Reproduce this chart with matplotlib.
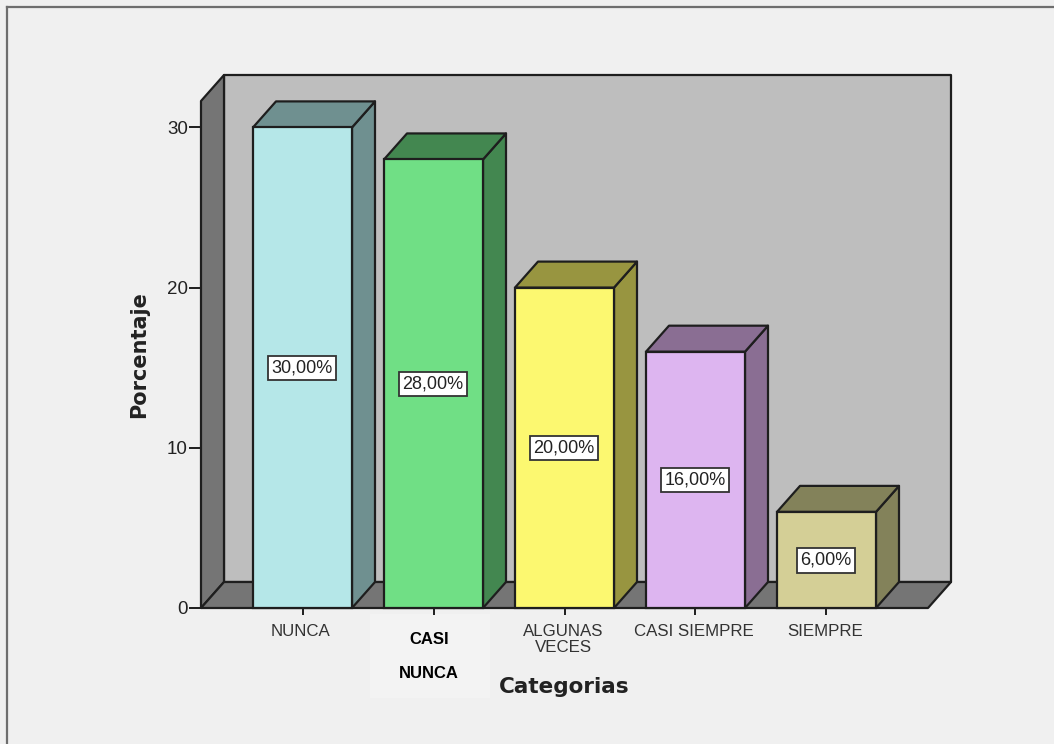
import matplotlib
matplotlib.use("Agg")
import matplotlib.pyplot as plt
from matplotlib.patches import Rectangle
from matplotlib.lines import Line2D
from matplotlib.transforms import ScaledTranslation

categories = ["NUNCA", "CASI\nNUNCA", "ALGUNAS\nVECES", "CASI SIEMPRE", "SIEMPRE"]
values = [30, 28, 20, 16, 6]
front_colors = ["#B5E7E8", "#70DF85", "#FCF870", "#DDB5F0", "#D4CF96"]
side_colors = ["#6F9090", "#438750", "#989540", "#8A6E93", "#83825A"]
yticks = [0, 10, 20, 30]

W, H = 1054, 744
BG = "#F0F0F0"
EDGE = "#1E1E1E"
WALL = "#757575"
BACK = "#BEBEBE"
FONT = ["Liberation Sans", "DejaVu Sans"]
NARROW = ["Liberation Sans Narrow", "Liberation Sans", "DejaVu Sans"]

fig = plt.figure(figsize=(W / 100, H / 100), dpi=100, facecolor=BG)

def fx(x):
    return x / W

def fy(y):
    return 1 - y / H

# frame of the picture
fig.add_artist(Line2D([fx(7), fx(7)], [fy(744), fy(7)], color="#6E6E6E", lw=1.6))
fig.add_artist(Line2D([fx(7), fx(1054)], [fy(7), fy(7)], color="#6E6E6E", lw=1.6))
fig.add_artist(Rectangle((fx(370), fy(698)), 120 / W, 84 / H, color="#F3F3F3", lw=0, zorder=0))

# axes = front plane of the 3D box
ax = fig.add_axes([fx(201), fy(608), 727 / W, 507 / H])
ax.set_facecolor("none")
ax.set_xlim(-101.5 / 131, 625.5 / 131)
ax.set_ylim(0, 507 / 16.02)
for s in ax.spines.values():
    s.set_visible(False)

dx = 23 / 131
dy = 26 / 16.02
bw = 99 / 131
x0, x1 = ax.get_xlim()
y1 = ax.get_ylim()[1]
LW = 1.6
kw = dict(edgecolor=EDGE, linewidth=LW, joinstyle="round", clip_on=False)

# walls
ax.fill([x0 + dx, x1 + dx, x1 + dx, x0 + dx], [dy, dy, y1 + dy, y1 + dy], facecolor=BACK, zorder=1, **kw)
ax.fill([x0, x0 + dx, x0 + dx, x0], [0, dy, y1 + dy, y1], facecolor=WALL, zorder=1, **kw)
ax.fill([x0, x1, x1 + dx, x0 + dx], [0, 0, dy, dy], facecolor=WALL, zorder=1, **kw)

# bars
for i, (v, fc, sc) in enumerate(zip(values, front_colors, side_colors)):
    l, r = i - bw / 2, i + bw / 2
    z = 2 + i
    ax.fill([r, r + dx, r + dx, r], [0, dy, v + dy, v], facecolor=sc, zorder=z, **kw)
    ax.fill([l, r, r + dx, l + dx], [v, v, v + dy, v + dy], facecolor=sc, zorder=z, **kw)
    ax.bar(i, v, bw, color=fc, edgecolor=EDGE, linewidth=LW, zorder=z, clip_on=False)
    ax.text(i - 0.005, v / 2 - 0.03, f"{v:.2f}%".replace(".", ","), ha="center", va="center",
            fontsize=13, family=FONT, color="#222222", zorder=20,
            bbox=dict(boxstyle="square,pad=0.2", fc="white", ec="#333333", lw=1.3))

# axes ticks
ax.set_yticks(yticks)
ax.set_yticklabels([str(t) for t in yticks], family=FONT, fontsize=13.5, color="#222222")
ax.tick_params(axis="y", length=8.5, width=1.4, color=EDGE, pad=1)
ax.set_xticks(range(len(categories)))
ax.set_xticklabels(["" if c == "CASI\nNUNCA" else c for c in categories],
                   family=FONT, fontsize=12.2, color="#333333", linespacing=1.05)
ax.tick_params(axis="x", length=5, width=1.4, color=EDGE, pad=6.5)
# the reference's labels sit slightly left of their ticks
for lab in ax.get_xticklabels():
    lab.set_transform(lab.get_transform() + ScaledTranslation(-1.5 / 100, 0, fig.dpi_scale_trans))

# bold category label
idx = categories.index("CASI\nNUNCA")
for word, y in zip(categories[idx].split("\n"), [640, 673]):
    fig.text(fx(429), fy(y), word, ha="center", va="center", family=NARROW,
             fontsize=12, fontweight="bold", color="black")

fig.text(fx(564), fy(687), "Categorias", ha="center", va="center", family="DejaVu Sans",
         fontsize=15.5, fontweight="bold", color="#222222")
fig.text(fx(139), fy(355), "Porcentaje", ha="center", va="center", rotation=90,
         family="DejaVu Sans", fontsize=15, fontweight="bold", color="#222222")

fig.savefig("out.png", dpi=100, facecolor=BG)
